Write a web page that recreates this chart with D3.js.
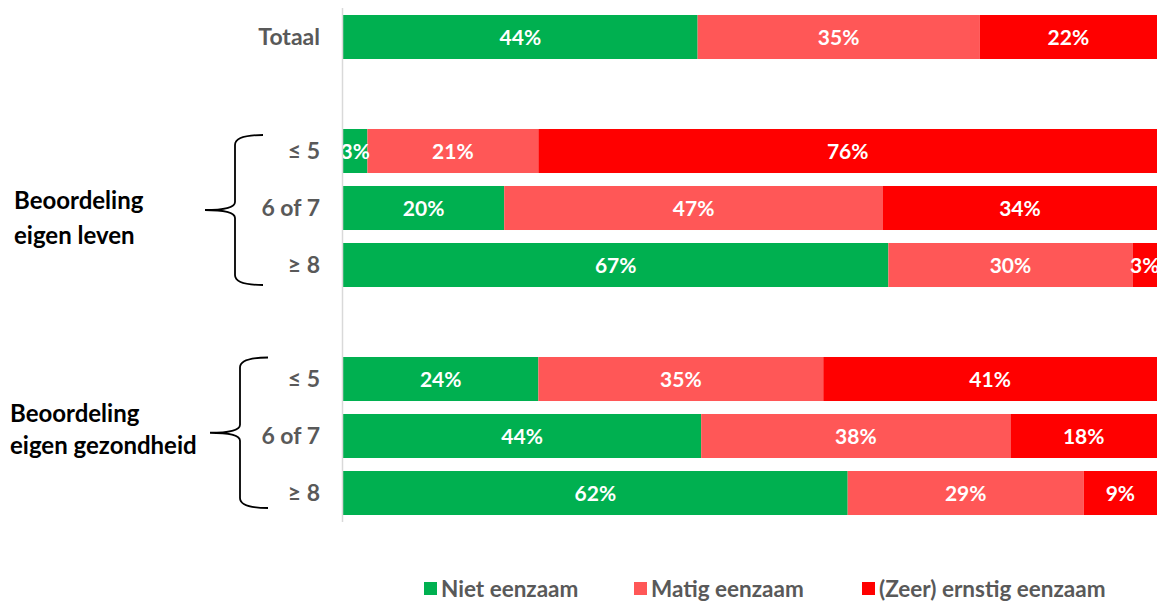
<!DOCTYPE html>
<meta charset="utf-8">
<style>
    body { margin: 0; background: #fff; }
    text { font-family: Lato, "Open Sans", sans-serif; font-weight: bold; }
</style>
<body>
<script src="https://cdn.jsdelivr.net/npm/d3@7/dist/d3.min.js"></script>
<script>

    var width = 1157;
    var height = 601;

    // rows, top to bottom (gap rows are empty slots between groups)
    var rows = ["tot", "gap1", "l5", "l67", "l8", "gap2", "g5", "g67", "g8"];
    var rowLabels = ["Totaal", "", "\u2264 5", "6 of 7", "\u2265 8", "", "\u2264 5", "6 of 7", "\u2265 8"];

    var series = ["Niet eenzaam", "Matig eenzaam", "(Zeer) ernstig eenzaam"];
    var colors = ["#00B050", "#FF5757", "#FF0000"];

    // percentages per row, same order as rows (null = empty slot)
    var nietEenzaam  = [44, null, 3, 20, 67, null, 24, 44, 62];
    var matigEenzaam = [35, null, 21, 47, 30, null, 35, 38, 29];
    var ernstig      = [22, null, 76, 34, 3, null, 41, 18, 9];

    var groups = [
        {lines: ["Beoordeling", "eigen leven"], from: "l5", to: "l8"},
        {lines: ["Beoordeling", "eigen gezondheid"], from: "g5", to: "g8"}
    ];

    var svg = d3.select("body").append("svg")
        .attr("width", width)
        .attr("height", height);

    var y = d3.scaleBand()
        .domain(rows)
        .range([8.5, 521.5])
        .paddingInner(0.228)
        .paddingOuter(0.114);

    var x = d3.scaleLinear()
        .domain([0, 1])
        .range([343, 1157]);

    // build stacked data (normalised to 100%)
    var data = [];
    rows.forEach(function (r, i) {
        if (nietEenzaam[i] === null) return;
        var vals = [nietEenzaam[i], matigEenzaam[i], ernstig[i]];
        var sum = d3.sum(vals);
        var acc = 0;
        vals.forEach(function (v, j) {
            data.push({row: r, series: j, x0: acc / sum, x1: (acc + v) / sum, value: v});
            acc += v;
        });
    });

    /////////////////////////////////
    // BARS
    /////////////////////////////////

    svg.selectAll("rect.bar")
        .data(data)
        .enter()
        .append("rect")
        .attr("class", "bar")
        .attr("x", function (d) { return x(d.x0); })
        .attr("width", function (d) { return x(d.x1) - x(d.x0); })
        .attr("y", function (d) { return y(d.row); })
        .attr("height", y.bandwidth())
        .style("fill", function (d) { return colors[d.series]; });

    svg.selectAll("text.val")
        .data(data)
        .enter()
        .append("text")
        .attr("class", "val")
        .attr("x", function (d) { return (x(d.x0) + x(d.x1)) / 2; })
        .attr("y", function (d) { return y(d.row) + y.bandwidth() / 2; })
        .attr("dy", "0.36em")
        .attr("text-anchor", "middle")
        .style("font-size", "21px")
        .style("fill", "#fff")
        .text(function (d) { return d.value + "%"; });

    // vertical axis line
    svg.append("line")
        .attr("x1", 342.5).attr("x2", 342.5)
        .attr("y1", 8).attr("y2", 522)
        .style("stroke", "#d9d9d9")
        .style("stroke-width", 1.5);

    // category labels
    svg.selectAll("text.cat")
        .data(rows.filter(function (r, i) { return rowLabels[i] !== ""; }))
        .enter()
        .append("text")
        .attr("class", "cat")
        .attr("x", 320)
        .attr("y", function (d) { return y(d) + y.bandwidth() / 2; })
        .attr("dy", "0.36em")
        .attr("text-anchor", "end")
        .style("font-size", "23px")
        .style("fill", "#595959")
        .text(function (d) { return rowLabels[rows.indexOf(d)]; });

    /////////////////////////////////
    // GROUP BRACES + LABELS
    /////////////////////////////////

    var braceX = [[205, 235, 263], [210, 240, 268]];
    var braceTrim = [[6, 2], [0.5, 7]];
    var labelPos = [[14, 8, 35], [10, -3, 32]];

    groups.forEach(function (g, i) {
        var top = y(g.from) + braceTrim[i][0];
        var bot = y(g.to) + y.bandwidth() - braceTrim[i][1];
        var mid = (top + bot) / 2;
        var tip = braceX[i][0], xv = braceX[i][1], end = braceX[i][2];
        var p = d3.path();
        p.moveTo(end, top);
        p.quadraticCurveTo(xv, top, xv, top + 10);
        p.lineTo(xv, mid - 8);
        p.quadraticCurveTo(xv, mid, tip, mid);
        p.quadraticCurveTo(xv, mid, xv, mid + 8);
        p.lineTo(xv, bot - 10);
        p.quadraticCurveTo(xv, bot, end, bot);
        svg.append("path")
            .attr("d", p.toString())
            .style("fill", "none")
            .style("stroke", "#000")
            .style("stroke-width", 1.8);

        var lx = labelPos[i][0];
        var lc = mid + labelPos[i][1];
        var gap = labelPos[i][2];
        var t = svg.append("text")
            .attr("x", lx)
            .attr("y", lc - gap / 2)
            .attr("dy", "0.36em")
            .style("font-size", "24px")
            .style("fill", "#000");
        g.lines.forEach(function (l, k) {
            t.append("tspan")
                .attr("x", lx)
                .attr("dy", k === 0 ? "0.36em" : gap)
                .text(l);
        });
    });

    /////////////////////////////////
    // LEGEND
    /////////////////////////////////

    var legendX = [424, 634, 862];
    var legend = svg.selectAll("g.legend")
        .data(series)
        .enter()
        .append("g")
        .attr("class", "legend")
        .attr("transform", function (d, i) { return "translate(" + legendX[i] + ",582)"; });

    legend.append("rect")
        .attr("width", 13)
        .attr("height", 13)
        .style("fill", function (d, i) { return colors[i]; });

    legend.append("text")
        .attr("x", 17)
        .attr("y", 6.5)
        .attr("dy", "0.36em")
        .style("font-size", "22.5px")
        .style("fill", "#595959")
        .text(function (d) { return d; });

</script>
</body>
</html>
